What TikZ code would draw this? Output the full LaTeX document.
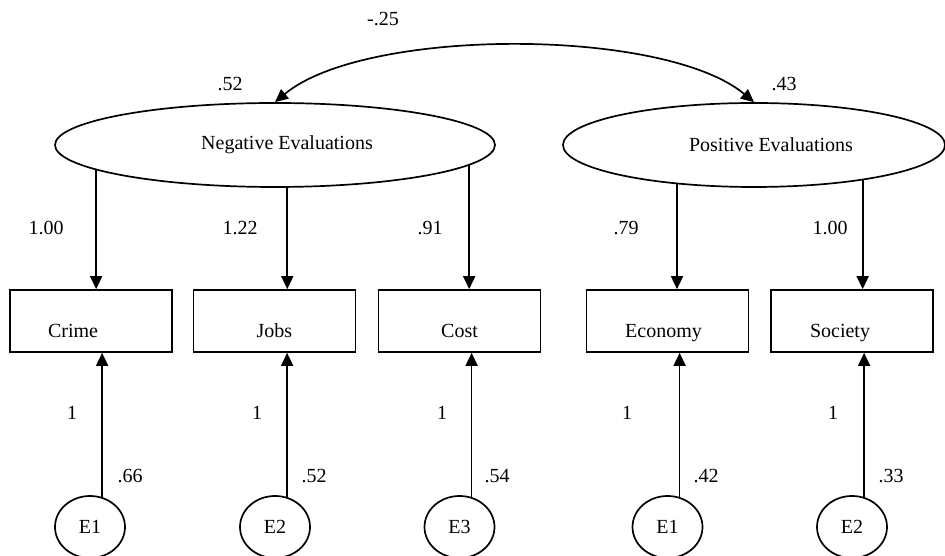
\documentclass[tikz,border=0pt]{standalone}
\usepackage{fontspec}
\setmainfont{Liberation Serif}
\usepackage{tikz}
\usetikzlibrary{shapes.geometric}
\usetikzlibrary{arrows.meta}
\tikzstyle{latent} = [draw=black, ellipse, line width=1.7pt, inner sep=0pt,
minimum width=440pt, minimum height=84pt]
\tikzstyle{obsbox} = [draw=black, rectangle, line width=1.7pt, inner sep=0pt,
minimum width=162pt, minimum height=62pt, text height=38pt, text depth=4pt]
\tikzstyle{errnode} = [draw=black, ellipse, line width=1.7pt, inner sep=0pt,
minimum width=70pt, minimum height=62pt]
\tikzstyle{loading} = [line width=1.7pt, -{Triangle[length=13pt,width=12pt]}]
\tikzstyle{covar} = [line width=1.7pt, {Triangle[length=13pt,width=12pt]}-{Triangle[length=13pt,width=12pt]}]
\tikzstyle{est} = [inner sep=0pt]

\begin{document}
\begin{tikzpicture}[x=1pt, y=1pt, font=\fontsize{20}{24}\selectfont]
        \useasboundingbox (0,0) rectangle (945,556);
        % latent factors
        \node [latent] (neg) at (275,411) {\hspace*{24pt}Negative Evaluations};
        \node [latent, minimum width=382pt] (pos) at (754,411) {\hspace*{34pt}Positive Evaluations};
        % indicators
        \node [obsbox] (crime) at (91,235) {\hspace*{-36pt}Crime};
        \node [obsbox] (jobs) at (274.5,235) {Jobs};
        \node [obsbox] (cost) at (459.5,235) {Cost};
        \node [obsbox] (economy) at (667.5,235) {\hspace*{-8pt}Economy};
        \node [obsbox] (society) at (852,235) {\hspace*{-24pt}Society};
        % errors
        \node [errnode] (err1) at (90,29) {E1};
        \node [errnode] (err2) at (275,29) {E2};
        \node [errnode] (err3) at (459.5,29) {E3};
        \node [errnode] (err4) at (667.5,29) {E1};
        \node [errnode] (err5) at (852,29) {E2};
        % paths
        \draw [covar] (neg.north) .. controls +(90,75) and +(-90,75) .. (pos.north);
        \draw [loading] (neg.188.5) -- (neg.188.5 |- crime.north);
        \draw [loading] (neg.286) -- (neg.286 |- jobs.north);
        \draw [loading] (neg.354.5) -- (neg.354.5 |- cost.north);
        \draw [loading] (pos.207.2) -- (pos.207.2 |- economy.north);
        \draw [loading] (pos.342.7) -- (pos.342.7 |- society.north);
        \draw [loading] (err1.68) -- (err1.68 |- crime.south);
        \draw [loading] (err2.68) -- (err2.68 |- jobs.south);
        \draw [loading] (err3.68) -- (err3.68 |- cost.south);
        \draw [loading] (err4.68) -- (err4.68 |- economy.south);
        \draw [loading] (err5.68) -- (err5.68 |- society.south);
        % estimates
        \node [est] (cov) at (383,537) {-.25};
        \node [est] (vneg) at (230,472) {.52};
        \node [est] (vpos) at (784,472) {.43};
        \node [est] (l1) at (46,328) {1.00};
        \node [est] (l2) at (240,328) {1.22};
        \node [est] (l3) at (430,328) {.91};
        \node [est] (l4) at (626,328) {.79};
        \node [est] (l5) at (830,328) {1.00};
        \node [est] (f1) at (72,143) {1};
        \node [est] (f2) at (257,143) {1};
        \node [est] (f3) at (442,143) {1};
        \node [est] (f4) at (627,143) {1};
        \node [est] (f5) at (833,143) {1};
        \node [est] (v1) at (130,80) {.66};
        \node [est] (v2) at (314,80) {.52};
        \node [est] (v3) at (497,80) {.54};
        \node [est] (v4) at (706,80) {.42};
        \node [est] (v5) at (891,80) {.33};
    \end{tikzpicture}
\end{document}
